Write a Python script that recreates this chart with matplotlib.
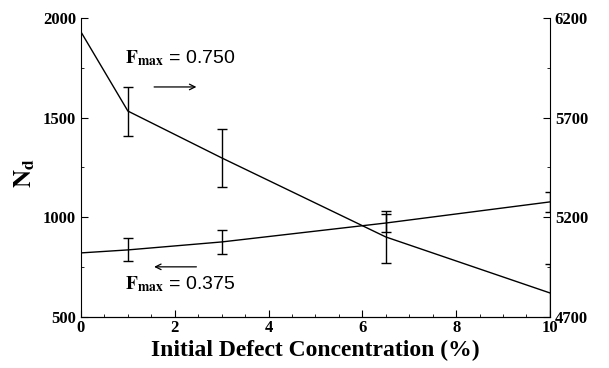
import matplotlib
matplotlib.use('Agg')
import matplotlib.pyplot as plt
from matplotlib.ticker import MultipleLocator, FixedLocator

plt.rcParams['font.family'] = ['Liberation Serif', 'DejaVu Serif']
plt.rcParams['mathtext.fontset'] = 'stix'

# defect concentration (%)
conc = [0, 1, 3, 6.5, 10]
# Fmax = 0.375 -> left axis
nd_375 = [821, 836, 876, 971, 1077]
err_375 = [0, 58, 60, 45, 50]
# Fmax = 0.750 -> right axis
nd_750 = [6130, 5733, 5498, 5101, 4820]
err_750 = [0, 123, 145, 130, 145]

fig = plt.figure(figsize=(6.09, 3.68), dpi=100)
ax = fig.add_axes([0.133, 0.139, 0.770, 0.812])
ax2 = ax.twinx()

# lines, then error bars only where there is an error
ax.plot(conc, nd_375, color='black', lw=1.0)
ax.errorbar(conc[1:], nd_375[1:], yerr=err_375[1:], fmt='none', ecolor='black',
            elinewidth=1.0, capsize=3.5, capthick=1.0)
ax2.plot(conc, nd_750, color='black', lw=1.0)
ax2.errorbar(conc[1:], nd_750[1:], yerr=err_750[1:], fmt='none', ecolor='black',
             elinewidth=1.0, capsize=3.5, capthick=1.0)

ax.set_xlim(0, 10)
ax.set_ylim(500, 2000)
ax2.set_ylim(4700, 6200)

ax.xaxis.set_major_locator(MultipleLocator(2))
ax.xaxis.set_minor_locator(MultipleLocator(0.5))
ax.yaxis.set_major_locator(MultipleLocator(500))
ax.yaxis.set_minor_locator(MultipleLocator(250))
ax2.yaxis.set_major_locator(FixedLocator([4700, 5200, 5700, 6200]))
ax2.yaxis.set_minor_locator(FixedLocator([4950, 5450, 5950]))

for a in (ax, ax2):
    a.spines['top'].set_visible(False)
    a.tick_params(direction='in', which='both', labelsize=12)
    a.tick_params(which='major', length=5)
    a.tick_params(which='minor', length=2.5)
    for lab in a.get_xticklabels() + a.get_yticklabels():
        lab.set_fontweight('bold')
ax2.spines['left'].set_visible(False)
ax.spines['right'].set_visible(False)
ax.tick_params(axis='x', pad=2)

ax.set_xlabel('Initial Defect Concentration (%)', fontsize=17,
              fontweight='bold', labelpad=3)
ax.set_ylabel(r'$\mathbf{N_d}$', fontsize=18)
ax.yaxis.set_label_coords(-0.094, 0.48)

ax.text(0.94, 1774, r'$\mathbf{F_{max}}$ = 0.750', fontsize=14,
        family=['Liberation Sans', 'DejaVu Sans'])
ax.annotate('', xy=(2.52, 1654), xytext=(1.5, 1654),
            arrowprops=dict(arrowstyle='->', lw=0.9, color='black'))
ax.text(0.94, 640, r'$\mathbf{F_{max}}$ = 0.375', fontsize=14,
        family=['Liberation Sans', 'DejaVu Sans'])
ax.annotate('', xy=(1.5, 751), xytext=(2.52, 751),
            arrowprops=dict(arrowstyle='->', lw=0.9, color='black'))

fig.savefig('out.png', dpi=100)
